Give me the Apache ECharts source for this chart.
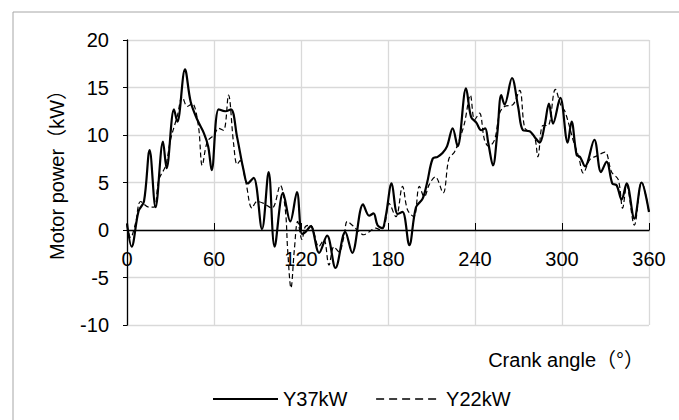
<!DOCTYPE html>
<html>
<head>
<meta charset="utf-8">
<script src="https://cdn.jsdelivr.net/npm/echarts@6/dist/echarts.min.js"></script>
<style>html,body{margin:0;padding:0;background:#fff;}#c{width:679px;height:420px;}</style>
</head>
<body>
<div id="c"></div>
<script>
var angle37 = [0,3.2,8,11.7,15.6,19.7,24.8,27.3,32.4,34.7,40,43.9,48.5,53,56,58.4,63.2,67.8,71.7,75.9,80.4,83.2,87.3,93.1,97.7,101.8,107.6,112.6,117.2,120.7,123.2,126.6,132.5,138,143.8,150.5,155.3,162.8,167,170,172.8,176,178.5,182.5,186.6,190,194.7,199.3,203.9,207,210.8,214.2,217.6,220.7,224.6,228,233.8,237.3,240.9,244.3,247,249,252.4,255.4,258.1,260.4,265.5,269.7,273.1,277.7,281.1,284.6,288,291,293.8,298.8,303.9,306.6,310.1,312.4,315.9,322.3,326.9,330.8,334.7,337.7,341.1,344.6,349.9,354.9,360];
var power37 = [0.7,-1.75,2.0,3.0,8.4,2.4,9.3,6.5,12.7,11.4,16.9,13.5,11.6,10.2,8.8,6.3,12.7,12.5,12.7,9.8,6.3,4.9,5.5,0.1,6.1,-1.75,3.9,0.9,4.0,-0.4,-0.2,0.4,-2.4,-0.6,-4.0,-0.2,-2.4,2.7,1.5,1.75,0.5,0.2,1.5,4.9,1.7,1.9,-1.6,2.4,3.3,5.0,7.5,7.7,8.1,8.8,10.7,8.8,14.9,11.9,11.3,10.5,10.7,9.3,6.8,10.2,14.2,13.2,16.0,13.0,10.5,10.4,9.8,9.2,11.0,13.3,11.2,13.9,9.2,11.4,7.9,7.7,6.7,9.5,6.1,7.2,4.9,4.7,3.2,4.9,1.2,5.0,1.9];

var angle22 = [0,2.5,6,9.4,15.2,18.6,22,26.7,30,34.7,38.1,41.6,45,49.2,51.9,55.4,60,63.2,66.6,70,73.5,75.9,78,82,86.2,89.6,94.2,100,105.7,109.2,110.8,113.1,115.4,117.7,120.7,123,126.6,132.3,135.8,139.3,142.7,146.2,149.6,151.9,155.4,158.8,163.4,166.9,171.5,175,177.7,180.7,185.5,190,193.5,197.9,201.6,205,208.5,212.6,218,222,225.8,229.2,232.7,236.8,239.7,243.1,246.5,249.5,253.5,257,260.4,266.2,270.8,274.2,277.7,281.1,283.4,286.8,290.3,295.4,299.5,302,308,311.5,314.7,319.2,324,329.6,334.2,338.8,341.8,344.6,349.9,354.9,360];
var power22 = [0.5,-0.8,0.8,3.0,2.4,2.4,5.3,6.8,9.5,12.0,14.0,13.0,13.3,11.0,6.8,9.3,10.0,10.7,10.5,14.2,9.1,6.9,7.3,5.0,2.3,3.0,2.8,2.3,4.7,2.1,-2.1,-6.1,-2.1,0.9,-1.0,0.35,0.5,-1.75,-1.0,-3.7,-1.75,-2.3,-0.7,0.9,0.5,0,-0.5,-0.2,0.2,0,0.5,2.8,1.4,4.6,2.1,1.4,4.6,3.5,4.8,5.6,3.9,7.5,8.2,9.5,11.2,14.2,11.6,12.3,9.5,8.8,9.5,12.3,13.0,13.2,14.7,10.8,10.3,9.8,7.7,11.0,11.0,14.8,13.0,12.5,9.3,7.7,6.0,7.4,7.8,8.2,6.1,5.3,2.3,4.7,0.5,5.1,1.9];

var seriesNames = ['Y37kW', 'Y22kW'];
var xTitle = 'Crank angle（°）';
var yTitle = 'Motor power（kW）';

function pairs(xs, ys) { return xs.map(function (x, i) { return [x, ys[i]]; }); }

var FONT = '"Liberation Sans", Arial, "Noto Sans CJK SC", sans-serif';
var FS = 20;
var chart = echarts.init(document.getElementById('c'), null, { renderer: 'svg' });
chart.setOption({
  animation: false,
  backgroundColor: '#fff',
  textStyle: { fontFamily: FONT },
  grid: { left: 127, right: 30, top: 40, bottom: 95 },
  graphic: [
    { type: 'rect', shape: { x: 13, y: 12, width: 700, height: 450 }, style: { fill: 'none', stroke: '#a6a6a6', lineWidth: 1 }, silent: true, z: -1 },
    { type: 'text', x: 644, y: 360, style: { text: xTitle, font: FS + 'px ' + FONT, fill: '#000', align: 'right', verticalAlign: 'middle' } },
    { type: 'text', x: 57, y: 170, rotation: Math.PI / 2, style: { text: yTitle, font: FS + 'px ' + FONT, fill: '#000', align: 'center', verticalAlign: 'middle' } }
  ],
  legend: {
    left: 207, top: 384, itemWidth: 65, itemHeight: 14, itemGap: 28,
    itemStyle: { color: 'transparent', borderWidth: 0, opacity: 0 },
    textStyle: { fontSize: FS, color: '#000', fontFamily: FONT },
    data: [
      { name: seriesNames[0] },
      { name: seriesNames[1], lineStyle: { type: [8, 5], width: 1.3 } }
    ]
  },
  xAxis: {
    type: 'value', min: 0, max: 360, interval: 60,
    offset: -95,
    axisLine: { onZero: false, lineStyle: { color: '#000', width: 1.3 } },
    axisTick: { show: true, inside: true, length: 7, lineStyle: { color: '#000' } },
    axisLabel: { margin: 19, fontSize: FS, color: '#000' },
    splitLine: { show: true, lineStyle: { color: '#d9d9d9', width: 1.3 } }
  },
  yAxis: {
    type: 'value', min: -10, max: 20, interval: 5,
    axisLine: { show: true, lineStyle: { color: '#000', width: 1.3 } },
    axisTick: { show: true, length: 4, lineStyle: { color: '#000' } },
    axisLabel: { margin: 18, fontSize: FS, color: '#000' },
    splitLine: { show: true, lineStyle: { color: '#d9d9d9', width: 1.3 } }
  },
  series: [
    { name: seriesNames[0], type: 'line', data: pairs(angle37, power37), smooth: 0.35, showSymbol: false, symbol: 'none', z: 3,
      lineStyle: { color: '#000', width: 2.2, type: 'solid' }, itemStyle: { color: '#000' } },
    { name: seriesNames[1], type: 'line', data: pairs(angle22, power22), smooth: 0.35, showSymbol: false, symbol: 'none', z: 2,
      lineStyle: { color: '#000', width: 1.2, type: [5, 3] }, itemStyle: { color: '#000' } }
  ]
});
</script>
</body>
</html>
